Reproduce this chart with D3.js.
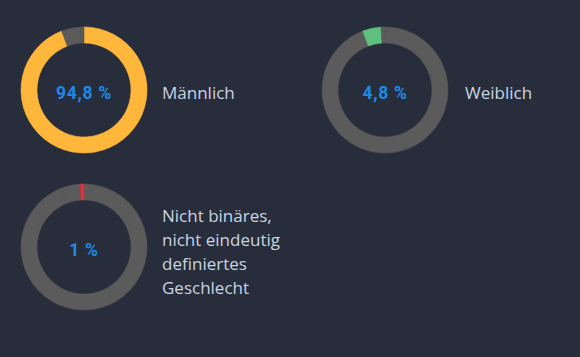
<!DOCTYPE html>
<html><head><meta charset="utf-8">
<script src="https://cdn.jsdelivr.net/npm/d3@7"></script>
<style>
html,body{margin:0;padding:0;background:#272d3a;}
svg{display:block;}
</style></head>
<body>
<svg id="c" width="580" height="357"></svg>
<script>
const categories = ["Männlich", "Weiblich", "Nicht binäres, nicht eindeutig definiertes Geschlecht"];
const values = [94.8, 4.8, 1];
const valueLabels = ["94,8 %", "4,8 %", "1 %"];
const labelLines = [["Männlich"], ["Weiblich"], ["Nicht binäres,", "nicht eindeutig", "definiertes", "Geschlecht"]];
const colors = ["#ffb73b", "#5fbf7c", "#d3343d"];

const W = 580, H = 357;
const svg = d3.select("#c");
const colX = d3.scalePoint().domain([0, 1]).range([84, 385]);
const labelX = d3.scalePoint().domain([0, 1]).range([162, 465]);
const rowY = d3.scalePoint().domain([0, 1]).range([90, 247]);
const positions = [{col:0,row:0},{col:1,row:0},{col:0,row:1}];
const outerR = 63, innerR = 47;
const pie = d3.pie().sort(null).value(d => d.v);
const arc = d3.arc().innerRadius(innerR).outerRadius(outerR);
const data = categories.map((c, i) => ({c, v: values[i]}));

categories.forEach((cat, i) => {
  const p = positions[i];
  const cx = colX(p.col), cy = rowY(p.row);
  const g = svg.append("g").attr("transform", `translate(${cx},${cy})`);
  g.selectAll("path").data(pie(data)).join("path")
    .attr("d", arc)
    .attr("fill", (d, j) => j === i ? colors[i] : "#5b5b5b")
    .attr("stroke", (d, j) => j === i ? colors[i] : "#555555")
    .attr("stroke-width", 0.6);
  g.append("text").attr("text-anchor", "middle").attr("y", 9)
    .attr("font-family", "Roboto, sans-serif").attr("font-weight", 700)
    .attr("font-size", 17.5).attr("letter-spacing", 0.7).attr("fill", "#1f8ae6")
    .text(valueLabels[i]);
  const lines = labelLines[i];
  const lh = 24.2;
  const off = lines.length > 1 ? 11 : 9;
  const t = svg.append("text")
    .attr("font-family", "'Open Sans', sans-serif")
    .attr("font-size", 17).attr("fill", "#c9d4e2");
  lines.forEach((l, k) => {
    t.append("tspan").attr("x", labelX(p.col))
      .attr("y", cy + off + (k - (lines.length - 1) / 2) * lh)
      .text(l);
  });
});
</script>
</body></html>
